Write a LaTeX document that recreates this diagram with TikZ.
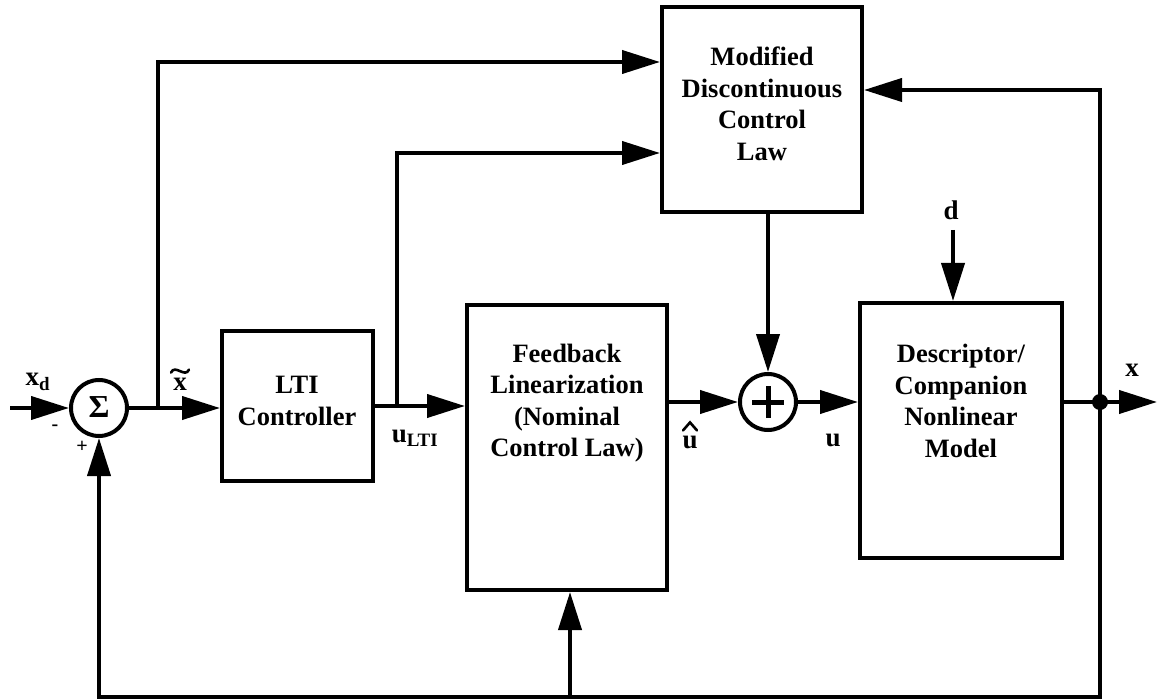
\documentclass[tikz,border=0pt]{standalone}
\usepackage{fontspec}
\setmainfont{Liberation Serif}
\usetikzlibrary{arrows.meta}
\begin{document}
\begin{tikzpicture}[x=1pt,y=-1pt,
  blk/.style={draw,line width=4pt,inner sep=0pt},
  txt/.style={align=center,font=\fontsize{26.5}{31.5}\selectfont\bfseries,inner sep=0pt},
  lbl/.style={font=\fontsize{27}{30}\selectfont\bfseries,inner sep=0pt},
  sml/.style={font=\fontsize{20}{22}\selectfont\bfseries,inner sep=0pt},
  wire/.style={line width=4pt},
  accent/.style={line width=2.6pt,line cap=round},
  arr/.style={-{Triangle[length=38pt,width=23pt]}},
  junc/.style={circle,draw,line width=4pt,inner sep=0pt}]
\useasboundingbox (0,0) rectangle (1158,700);

% blocks
\node[blk,minimum width=151pt,minimum height=150pt] (lti) at (297.5,406) {};
\node[txt] (ltitxt) at (297,401) {LTI\\Controller};
\node[blk,minimum width=200pt,minimum height=285pt] (fl) at (567,447.5) {};
\node[txt] (fltxt) at (567,403) {Feedback\\Linearization\\(Nominal\\Control Law)};
\node[blk,minimum width=200pt,minimum height=205pt] (mod) at (762,109.5) {};
\node[txt] (modtxt) at (762,104) {Modified\\Discontinuous\\Control\\Law};
\node[blk,minimum width=202pt,minimum height=255pt] (desc) at (961,430.5) {};
\node[txt] (desctxt) at (961,401) {Descriptor/\\Companion\\Nonlinear\\Model};

% summing junctions
\node[junc,minimum size=56pt] (sum) at (99,408) {};
\node[font=\fontsize{32}{32}\selectfont\bfseries,inner sep=0pt] (sig) at (99,407) {Σ};
\node[junc,minimum size=56pt] (plus) at (768,402) {};
\draw[line width=5pt] ([xshift=-16pt]plus.center) -- ([xshift=16pt]plus.center);
\draw[line width=5pt] ([yshift=-16pt]plus.center) -- ([yshift=16pt]plus.center);

% coordinates
\coordinate (in) at (10,408);
\coordinate (b1) at (158,408);
\coordinate (t1) at (158,62);
\coordinate (b2) at (397,406);
\coordinate (t2) at (397,153);
\coordinate (dtop) at (953,230);
\coordinate (j) at (1100,402);
\coordinate (xout) at (1157,402);
\coordinate (r1) at (1100,90);
\coordinate (r2) at (1100,697);
\coordinate (l2) at (99,697);
\coordinate (m2) at (570,697);

% connectors
\draw[wire,arr] (in) -- (sum.west);
\draw[wire,arr] (sum.east) -- (sum.east -| lti.west);
\draw[wire,arr] (b1) -- (t1) -- (t1 -| mod.west);
\draw[wire,arr] (lti.east |- b2) -- (b2 -| fl.west);
\draw[wire,arr] (b2) -- (t2) -- (t2 -| mod.west);
\draw[wire,arr] (plus -| fl.east) -- (plus.west);
\draw[wire,arr] (plus |- mod.south) -- (plus.north);
\draw[wire,arr] (plus.east) -- (plus.east -| desc.west);
\draw[wire,arr] (dtop) -- (dtop |- desc.north);
\draw[wire,arr] (plus -| desc.east) -- (xout);
\draw[wire,arr] (j) -- (r1) -- (r1 -| mod.east);
\draw[wire,arr] (j) -- (r2) -- (l2) -- (sum.south);
\draw[wire,arr] (m2) -- (m2 |- fl.south);
\fill (j) circle (8pt);

% labels
\node[lbl] (lxd) at (38,382) {x\textsubscript{d}};
\node[sml] (lminus) at (55,428) {-};
\node[sml] (lplus) at (82,447) {+};
\node[lbl] (lxt) at (180,384) {x};
\draw[accent] (lxt.north) ++(-9,-5) .. controls +(4,-9) and +(-4,9) .. ++(18,-3);
\node[lbl] (lulti) at (415,438) {u\textsubscript{LTI}};
\node[lbl] (luhat) at (690,442) {u};
\draw[accent] (luhat.north) ++(-7,-5) -- ++(7,-8) -- ++(7,8);
\node[lbl] (lu) at (833,440) {u};
\node[lbl] (ld) at (951,210) {d};
\node[lbl] (lx) at (1132,370) {x};
\end{tikzpicture}
\end{document}
